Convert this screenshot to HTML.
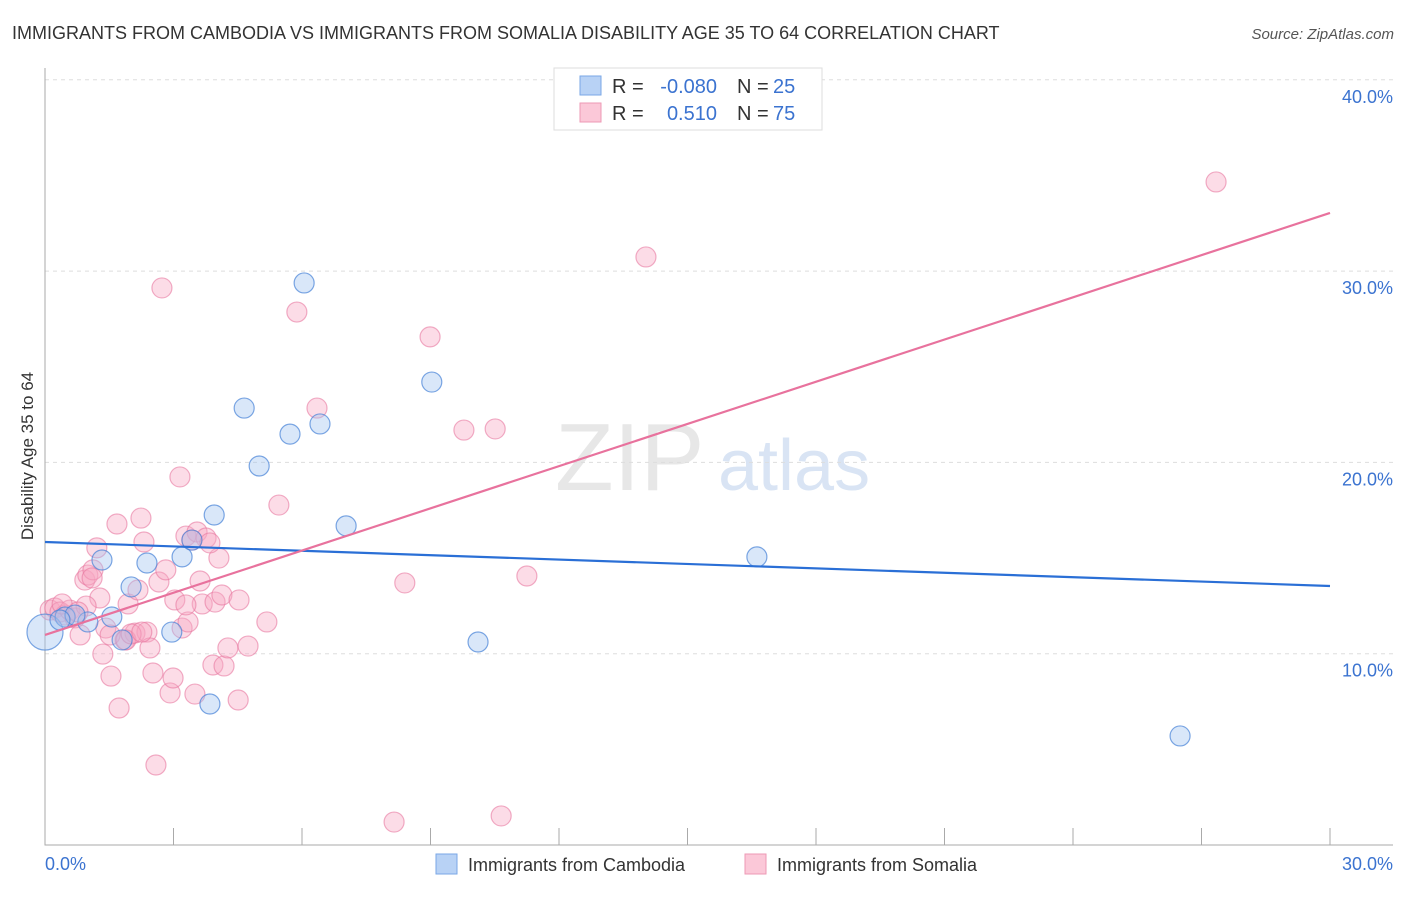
<!DOCTYPE html>
<html><head><meta charset="utf-8"><style>
body{margin:0;background:#fff;font-family:"Liberation Sans",sans-serif}
svg text{font-family:"Liberation Sans",sans-serif}
</style></head><body>
<svg id="chart" width="1406" height="892" xmlns="http://www.w3.org/2000/svg">
<text x="12" y="39" font-size="18" fill="#333">IMMIGRANTS FROM CAMBODIA VS IMMIGRANTS FROM SOMALIA DISABILITY AGE 35 TO 64 CORRELATION CHART</text>
<text x="1394" y="39" font-size="15" fill="#555" text-anchor="end" font-style="italic">Source: ZipAtlas.com</text>
<text x="555" y="490" font-size="96" fill="#ddd" font-family="Liberation Serif" opacity="0.7">ZIP</text>
<text x="718" y="490" font-size="72" fill="#c9daf0" opacity="0.7">atlas</text>
<g id="grid"></g>
<g id="axes"></g>
<g id="marks"></g>
<text transform="translate(33,456) rotate(-90)" font-size="17" fill="#333" text-anchor="middle">Disability Age 35 to 64</text>
<g>
<rect x="554" y="68" width="268" height="62" fill="#fff" stroke="#ddd"/>
<rect x="580" y="76" width="21" height="19" fill="#b8d2f5" stroke="#7aa7e6"/>
<rect x="580" y="103" width="21" height="19" fill="#fbc8d8" stroke="#ee99b5"/>
<text x="612" y="93" font-size="20" fill="#333">R = </text><text x="717" y="93" font-size="20" fill="#3b73d0" text-anchor="end">-0.080</text>
<text x="737" y="93" font-size="20" fill="#333">N = </text><text x="773" y="93" font-size="20" fill="#3b73d0">25</text>
<text x="612" y="120" font-size="20" fill="#333">R = </text><text x="717" y="120" font-size="20" fill="#3b73d0" text-anchor="end">0.510</text>
<text x="737" y="120" font-size="20" fill="#333">N = </text><text x="773" y="120" font-size="20" fill="#3b73d0">75</text>
</g>
<g>
<rect x="436" y="854" width="21" height="20" fill="#b8d2f5" stroke="#7aa7e6"/>
<text x="468" y="871" font-size="18" fill="#333">Immigrants from Cambodia</text>
<rect x="745" y="854" width="21" height="20" fill="#fbc8d8" stroke="#ee99b5"/>
<text x="777" y="871" font-size="18" fill="#333">Immigrants from Somalia</text>
</g>
</svg>
<script>
const yTicks=[10,20,30,40];
const yTickLabels=["10.0%","20.0%","30.0%","40.0%"];
const xTickLabels=["0.0%","30.0%"];
const blueX=[0,0.47,1.00,1.33,1.56,1.80,2.01,2.38,2.96,3.20,3.43,3.85,3.95,4.65,5.00,5.72,6.05,6.42,7.03,9.03,10.11,16.62,26.50,0.70,0.35];
const blueY=[11.13,11.92,11.66,14.90,11.92,10.72,13.49,14.74,11.13,15.06,15.94,7.37,17.25,22.84,19.81,21.48,29.38,22.01,16.68,24.20,10.61,15.06,5.70,12.02,11.76];
const pinkX=[0.12,0.23,0.35,0.47,0.58,0.70,0.82,0.93,1.00,1.12,1.21,1.28,1.35,1.42,1.54,1.68,1.73,1.87,1.94,2.10,2.17,2.24,2.31,2.38,2.45,2.52,2.59,2.66,2.73,2.82,2.92,2.99,3.03,3.15,3.20,3.29,3.34,3.50,3.55,3.62,3.67,3.76,3.92,3.97,4.06,4.13,4.18,4.27,4.51,4.53,4.74,5.18,5.46,5.88,6.35,8.15,8.40,8.99,9.78,10.51,10.65,11.25,14.03,27.34,1.52,1.89,2.01,0.96,1.10,0.40,0.77,2.26,3.43,3.29,3.85];
const pinkY=[12.28,12.39,12.18,12.02,12.28,11.87,10.98,13.85,14.11,14.38,15.53,12.91,9.98,11.34,8.83,16.78,7.16,10.72,12.60,11.08,13.33,17.09,15.84,11.13,10.30,8.99,4.18,13.75,29.12,14.38,7.95,8.73,12.81,19.24,11.34,16.15,11.66,7.89,16.36,13.80,12.60,16.05,9.41,12.70,15.00,13.07,9.36,10.30,7.58,12.81,10.40,11.66,17.77,27.86,22.84,1.20,13.70,26.56,21.69,21.75,1.52,14.06,30.74,34.66,10.98,10.72,11.03,12.49,13.96,12.60,12.18,11.13,15.94,12.55,15.79];
const blueTrend=[15.84,13.54];
const pinkTrend=[10.98,33.04];
const NS="http://www.w3.org/2000/svg";
const sx=v=>45+v/30*1285, sy=v=>845-v*19.13;
function mk(p,t,a){const e=document.createElementNS(NS,t);for(const k in a)e.setAttribute(k,a[k]);p.appendChild(e);return e;}
const grid=document.getElementById('grid'),axes=document.getElementById('axes'),marks=document.getElementById('marks');
yTicks.forEach((t,i)=>{
 const l=mk(grid,'line',{x1:45,x2:1393,y1:sy(t),y2:sy(t),stroke:'#ddd','stroke-dasharray':'4,4'});
 
 
 const tx=mk(grid,'text',{x:1393,y:sy(t)+23,'font-size':18,fill:'#3b73d0','text-anchor':'end'});
 tx.textContent=yTickLabels[i];
 
 
});
const ax=mk(axes,'path',{d:'M45,68V845H1393',stroke:'#aaa',fill:'none'});


for(let i=0;i<=10;i++){
 const t=mk(axes,'line',{x1:sx(i*3),x2:sx(i*3),y1:828,y2:845,stroke:'#aaa'});
 
 
}
[[0,'start'],[30,'end']].forEach((d,i)=>{
 const tx=mk(axes,'text',{x:i?1393:45,y:870,'font-size':18,fill:'#3b73d0','text-anchor':d[1]});
 tx.textContent=xTickLabels[i];
 
 
});
pinkX.forEach((x,i)=>{
 const c=mk(marks,'circle',{cx:sx(x),cy:sy(pinkY[i]),r:10,fill:'rgba(247,168,195,0.4)',stroke:'rgba(232,120,160,0.6)','stroke-width':1.2});
 
 
});
blueX.forEach((x,i)=>{
 const c=mk(marks,'circle',{cx:sx(x),cy:sy(blueY[i]),r:i===0?18:10,fill:'rgba(160,196,240,0.4)',stroke:'rgba(70,130,215,0.7)','stroke-width':1.2});
 
 
});
const bl=mk(marks,'line',{x1:sx(0),x2:sx(30),y1:sy(blueTrend[0]),y2:sy(blueTrend[1]),stroke:'#2a6fd6','stroke-width':2.2});


const pl=mk(marks,'line',{x1:sx(0),x2:sx(30),y1:sy(pinkTrend[0]),y2:sy(pinkTrend[1]),stroke:'#e8729d','stroke-width':2.2});


</script>
</body></html>
